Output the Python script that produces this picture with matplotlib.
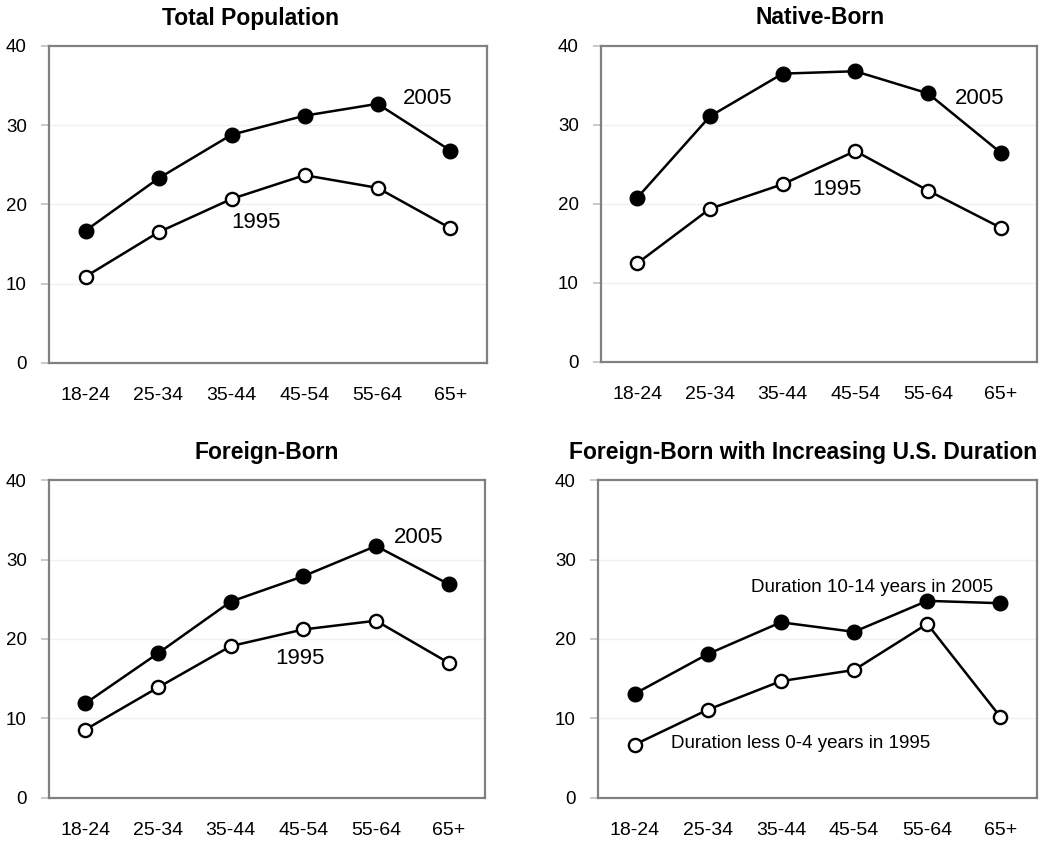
import matplotlib as mpl
mpl.use('Agg')
import numpy as np
import matplotlib.pyplot as plt

plt.rcParams['font.family'] = ['Liberation Sans', 'DejaVu Sans']

ages = ['18-24', '25-34', '35-44', '45-54', '55-64', '65+']

# values (percent)
total_2005 = [16.7, 23.3, 28.8, 31.2, 32.7, 26.8]
total_1995 = [10.9, 16.5, 20.7, 23.7, 22.1, 17.0]
native_2005 = [20.8, 31.1, 36.5, 36.8, 34.0, 26.5]
native_1995 = [12.5, 19.4, 22.5, 26.7, 21.7, 17.0]
foreign_2005 = [11.9, 18.2, 24.7, 27.9, 31.7, 26.9]
foreign_1995 = [8.6, 13.9, 19.1, 21.2, 22.3, 17.0]
dur_2005 = [13.1, 18.1, 22.1, 20.9, 24.8, 24.5]
dur_1995 = [6.7, 11.1, 14.7, 16.1, 21.9, 10.2]

titles = ['Total Population', 'Native-Born', 'Foreign-Born',
          'Foreign-Born with Increasing U.S. Duration']
series = [(total_2005, total_1995), (native_2005, native_1995),
          (foreign_2005, foreign_1995), (dur_2005, dur_1995)]
labels = [(('2005', 5.18, 33.4), ('1995', 2.84, 17.7)),
          (('2005', 5.21, 33.4), ('1995', 3.25, 21.8)),
          (('2005', 5.09, 32.8), ('1995', 3.45, 17.6)),
          (('Duration 10-14 years in 2005', 3.74, 26.5),
           ('Duration less 0-4 years in 1995', 2.77, 6.9))]

# axes boxes in figure fractions [left, bottom, width, height]
boxes = [[0.0467, 0.5689, 0.4171, 0.3765],
         [0.5724, 0.5701, 0.4152, 0.3753],
         [0.0467, 0.0523, 0.4152, 0.3776],
         [0.5695, 0.0523, 0.4181, 0.3776]]
title_x = [250, 820, 267, 803]
title_y = [18, 18, 452, 453]

fig = plt.figure(figsize=(10.5, 8.42), dpi=100)
x = np.arange(len(ages)) + 0.5

for i in range(4):
    ax = fig.add_axes(boxes[i])
    s05, s95 = series[i]
    ax.plot(x, s05, color='black', lw=1.8, marker='o', ms=10.5,
            mfc='black', mec='black', zorder=3)
    ax.plot(x, s95, color='black', lw=1.8, marker='o', ms=9.5,
            mfc='white', mec='black', mew=1.7, zorder=3)
    ax.set_xlim(0, 6)
    ax.set_ylim(0, 40)
    ax.set_yticks([0, 10, 20, 30, 40])
    ax.set_xticks(x)
    ax.set_xticklabels(ages)
    for yv in [10, 20, 30]:
        ax.axhline(yv, color='#f0f0f0', lw=1, zorder=1)
    for sp in ax.spines.values():
        sp.set_color('#808080')
        sp.set_linewidth(1.6)
    ax.tick_params(axis='y', length=6, color='#c0c0c0', width=1.2,
                   labelsize=13.5, pad=10)
    ax.tick_params(axis='x', length=0, labelsize=14, pad=17)
    fs = 16 if i < 3 else 13.5
    for txt, tx, ty in labels[i]:
        ax.text(tx, ty, txt, fontsize=fs, ha='center', va='center')
    fig.text(title_x[i] / 1050, 1 - title_y[i] / 842, titles[i],
             fontsize=16.5, fontweight='bold', ha='center', va='center')

plt.savefig('out.png', dpi=100)
